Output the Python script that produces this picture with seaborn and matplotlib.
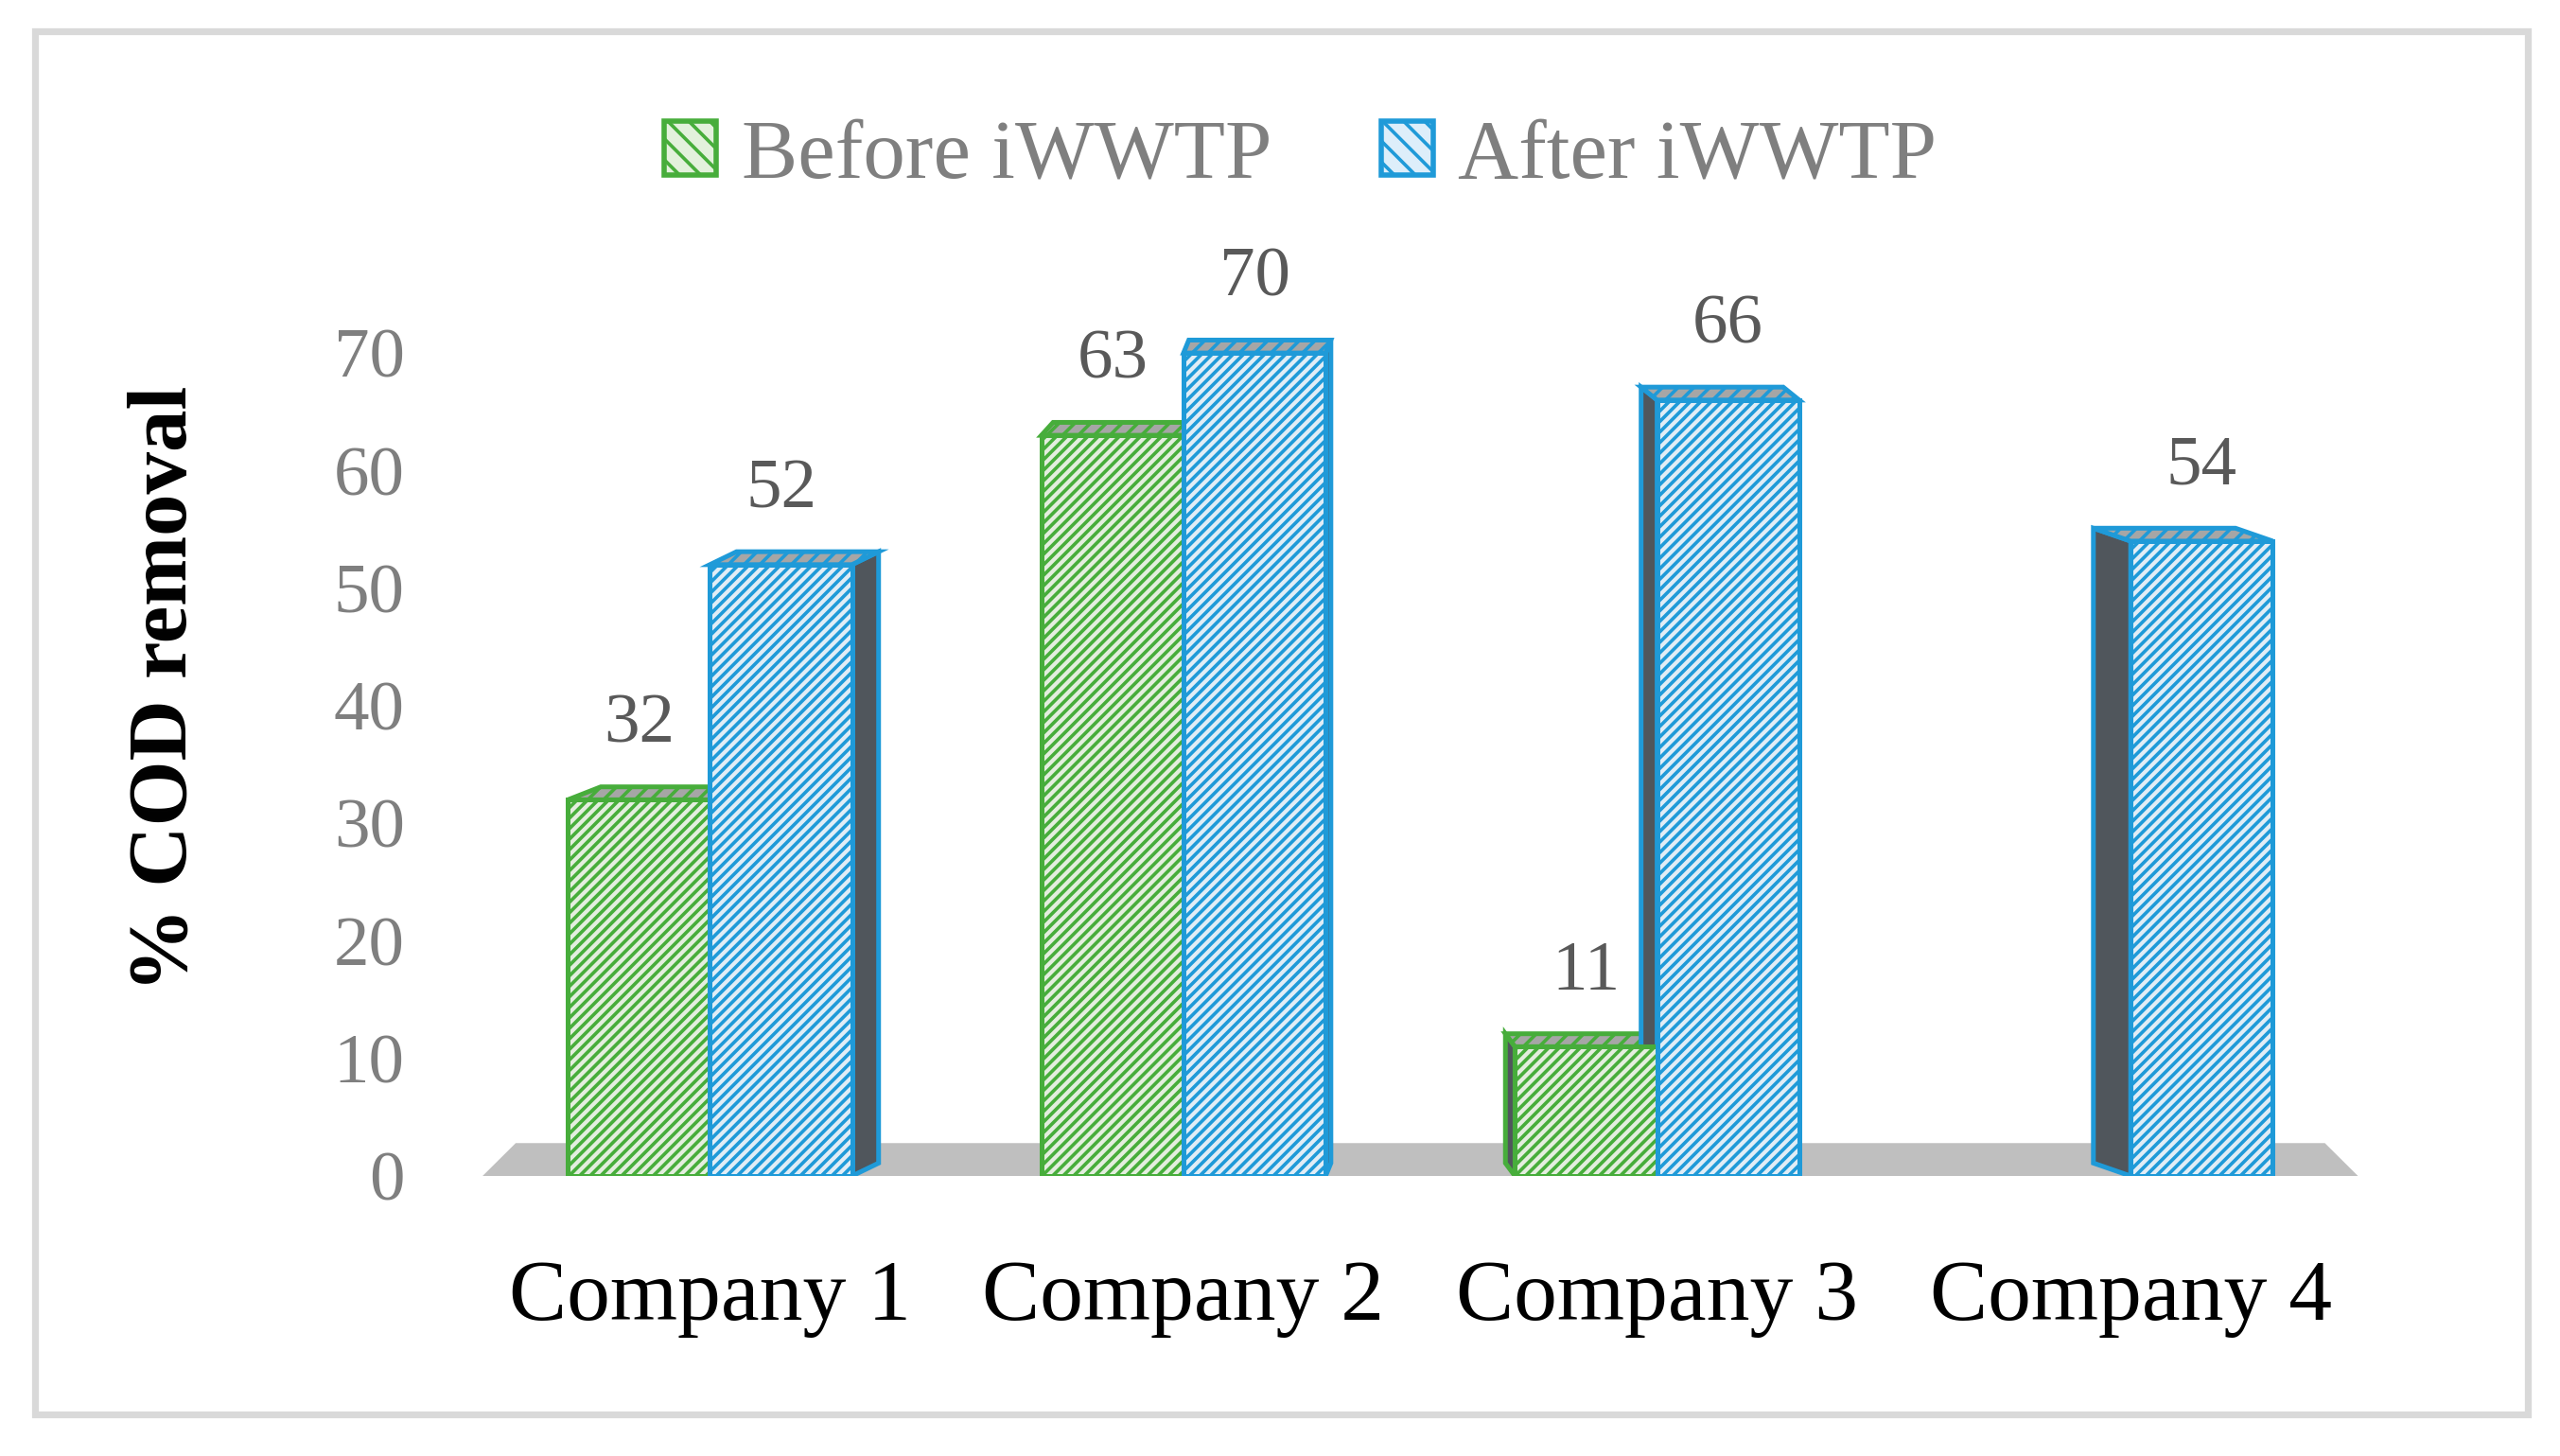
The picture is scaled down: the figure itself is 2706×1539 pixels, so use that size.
import matplotlib
matplotlib.use('Agg')
import pandas as pd
import seaborn as sns
import matplotlib.pyplot as plt
from matplotlib.patches import Polygon, Rectangle, Patch

companies = ['Company 1', 'Company 2', 'Company 3', 'Company 4']
before = [32, 63, 11, 0]
after = [52, 70, 66, 54]
series = ['Before iWWTP', 'After iWWTP']
yticks = [0, 10, 20, 30, 40, 50, 60, 70]

df = pd.DataFrame({'company': companies * 2,
                   'value': before + after,
                   'stage': [series[0]] * 4 + [series[1]] * 4})

sns.set_theme(style='white')
plt.rcParams['font.family'] = ['Liberation Serif', 'DejaVu Serif']
plt.rcParams['hatch.linewidth'] = 1.3

edge = {series[0]: '#47ad3b', series[1]: '#1f9ad8'}
fill = {series[0]: '#e3f1dc', series[1]: '#ddeefa'}

fig = plt.figure(figsize=(13.53, 7.695), dpi=200)
ax = fig.add_axes([0.1848, 0.1923, 0.740, 0.646])

sns.barplot(data=df, x='company', y='value', hue='stage', hue_order=series,
            palette=fill, width=0.6, ax=ax, zorder=3, legend=False)

# fake 3D: top and side faces taken from the bars themselves
center = 1.4
k = 0.045
depth = 1.1
for cont, s, vals in zip(ax.containers, series, [before, after]):
    for bar in cont:
        h = bar.get_height()
        if h == 0:
            bar.set_visible(False)
            continue
        bar.set_edgecolor(edge[s])
        bar.set_linewidth(1.8)
        bar.set_hatch('//////')
        x0 = bar.get_x()
        x1 = x0 + bar.get_width()
        dx = k * (center - (x0 + x1) / 2)
        top = Polygon([(x0, h), (x1, h), (x1 + dx, h + depth), (x0 + dx, h + depth)],
                      facecolor='#a6a6a6', edgecolor=edge[s], lw=1.8, hatch='////', zorder=2)
        xs = x1 if dx > 0 else x0
        side = Polygon([(xs, 0), (xs, h), (xs + dx, h + depth), (xs + dx, depth)],
                       facecolor='#50565c', edgecolor=edge[s], lw=1.8, zorder=2)
        ax.add_patch(side)
        ax.add_patch(top)
    ax.bar_label(cont, labels=[str(v) if v else '' for v in vals],
                 padding=16, fontsize=27, color='#595959')

# floor
xl, xr = -0.48, 3.48
floor = Polygon([(xl, 0), (xr, 0), (xr - 0.07, 2.8), (xl + 0.07, 2.8)],
                facecolor='#bfbfbf', edgecolor='none', zorder=1)
ax.add_patch(floor)

ax.set_xlim(-0.5, 3.5)
ax.set_ylim(0, 80)
ax.set_yticks(yticks)
ax.set_xlabel('')
ax.set_ylabel('% COD removal', fontsize=32, fontweight='bold', color='black')
ax.yaxis.set_label_coords(-0.142, 0.518)
for sp in ax.spines.values():
    sp.set_visible(False)
ax.tick_params(axis='y', labelsize=27, labelcolor='#7f7f7f', length=0, pad=26)
ax.tick_params(axis='x', labelsize=33, labelcolor='black', length=0, pad=32)

handles = [Patch(facecolor=fill[s], edgecolor=edge[s], hatch='\\\\\\', lw=2) for s in series]
fig.legend(handles, series, loc='center', bbox_to_anchor=(0.508, 0.892), ncol=2,
           frameon=False, fontsize=32, labelcolor='#7f7f7f', handlelength=0.62,
           handleheight=0.62, handletextpad=0.3, columnspacing=1.3)

fig.patches.append(Rectangle((37 / 2706, 44 / 1539), 2635 / 2706, 1462 / 1539,
                             transform=fig.transFigure, fill=False,
                             edgecolor='#d9d9d9', lw=2.6))

fig.savefig('out.png', dpi=200)
